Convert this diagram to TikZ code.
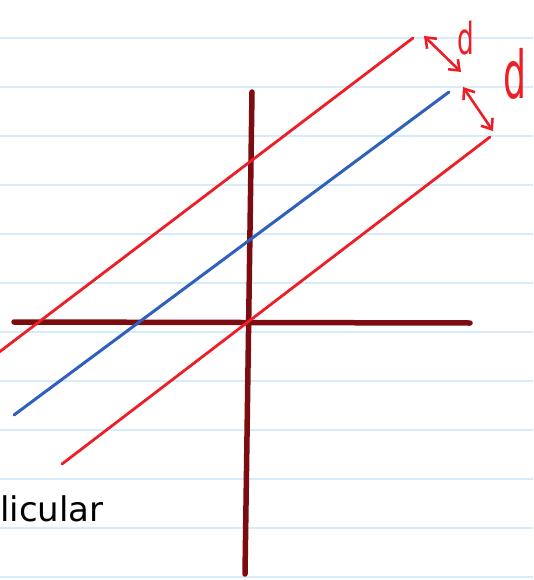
\documentclass[tikz,border=0pt]{standalone}
\usepackage{fontspec}
\setmainfont{DejaVu Sans}
\usetikzlibrary{arrows.meta}
\definecolor{rule}{RGB}{214,236,250}
\definecolor{axis}{RGB}{125,12,16}
\definecolor{pen}{RGB}{238,30,38}
\definecolor{bluepen}{RGB}{48,96,190}
\begin{document}
\begin{tikzpicture}[x=1pt,y=-1pt,
  ruled/.style={draw=rule,line width=1.2pt},
  axisline/.style={draw=axis,line width=5.5pt,line cap=round},
  redline/.style={draw=pen,line width=2.8pt,line cap=round},
  blueline/.style={draw=bluepen,line width=3pt,line cap=round},
  dist/.style={draw=pen,line width=2.6pt,line cap=round,{Straight Barb[length=9pt,width=14pt]}-{Straight Barb[length=9pt,width=14pt]}},
  dlabel/.style={text=pen,inner sep=0pt,transform shape}]
\useasboundingbox (0,0) rectangle (533,580);
\fill[white] (0,0) rectangle (533,580);
\foreach \y in {38,87,136,185,234,283,332,381,430,479,528,577}
  \draw[ruled] (0,\y) -- (533,\y);
% axes
\coordinate (vt) at (252,92);
\coordinate (vb) at (245,574);
\coordinate (hl) at (14,322);
\coordinate (hr) at (470,323);
\draw[axisline] (vt) -- (vb);
\draw[axisline] (hl) -- (hr);
% lines
\coordinate (r1a) at (-2,353);
\coordinate (r1b) at (413,38);
\coordinate (ba) at (14,415);
\coordinate (bb) at (449,92);
\coordinate (r2a) at (62,464);
\coordinate (r2b) at (490,137);
\draw[redline] (r1a) -- (r1b);
\draw[blueline] (ba) -- (bb);
\draw[redline] (r2a) -- (r2b);
% distance arrows
\coordinate (d1a) at (424,36);
\coordinate (d1b) at (461,72);
\coordinate (d2a) at (463,87);
\coordinate (d2b) at (493,131);
\draw[dist] (d1a) -- (d1b);
\draw[dist] (d2a) -- (d2b);
\node[dlabel,font=\fontsize{44}{44}\selectfont,xscale=0.6] (dl1) at (466,38) {d};
\node[dlabel,font=\fontsize{66}{66}\selectfont,xscale=0.55] (dl2) at (515,74) {d};
\node[anchor=base west,inner sep=0pt,font=\fontsize{34}{34}\selectfont] (txt) at (0,521) {licular};
\end{tikzpicture}
\end{document}
